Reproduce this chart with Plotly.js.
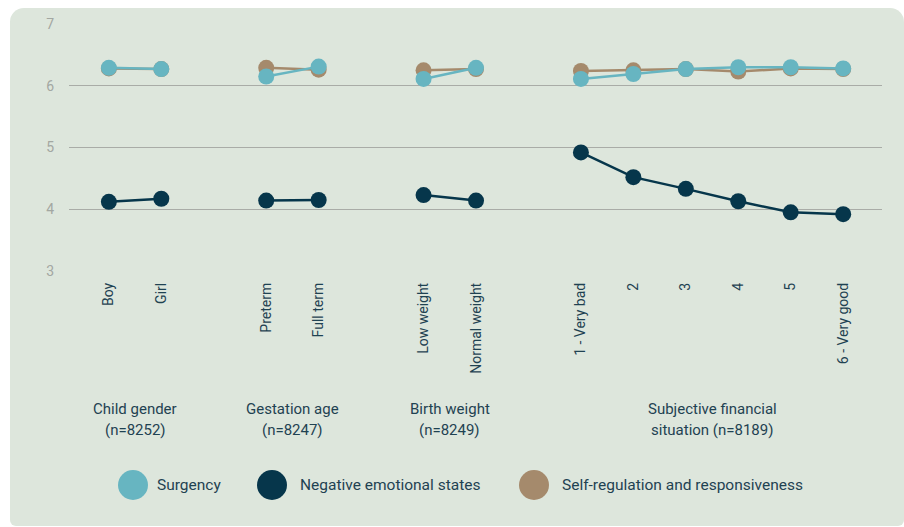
<!DOCTYPE html>
<html>
<head>
<meta charset="utf-8">
<script src="https://cdn.plot.ly/plotly-3.0.1.min.js"></script>
<style>
  html, body { margin: 0; padding: 0; background: #ffffff; }
  #card { position: absolute; left: 10px; top: 8px; width: 894px; height: 518px;
          background: #dde6dc; border-radius: 14px 14px 6px 6px; }
  #chart { position: absolute; left: 0; top: 0; width: 904px; height: 527px; }
</style>
</head>
<body>
<div id="card"></div>
<div id="chart"></div>
<script>
// ---- data ----
const categories = ['Boy', 'Girl', 'Preterm', 'Full term', 'Low weight', 'Normal weight',
                    '1 - Very bad', '2', '3', '4', '5', '6 - Very good'];
const groupOf = [0, 0, 1, 1, 2, 2, 3, 3, 3, 3, 3, 3];
const groupLine1 = ['Child gender', 'Gestation age', 'Birth weight', 'Subjective financial'];
const groupLine2 = ['(n=8252)', '(n=8247)', '(n=8249)', 'situation (n=8189)'];

const surgency       = [6.29, 6.27, 6.15, 6.31, 6.11, 6.29, 6.11, 6.19, 6.27, 6.30, 6.30, 6.28];
const negativeStates = [4.12, 4.17, 4.14, 4.15, 4.23, 4.14, 4.92, 4.52, 4.33, 4.13, 3.95, 3.92];
const selfRegulation = [6.28, 6.27, 6.29, 6.26, 6.25, 6.27, 6.24, 6.25, 6.27, 6.23, 6.28, 6.27];

const seriesNames = ['Surgency', 'Negative emotional states', 'Self-regulation and responsiveness'];
const yTicks = [3, 4, 5, 6, 7];

// ---- styles ----
const colors = {
  'Surgency': '#67b5c1',
  'Negative emotional states': '#06364b',
  'Self-regulation and responsiveness': '#a58a6c'
};
const textColor = '#1f4252';
const font = 'Roboto, "Open Sans", sans-serif';

// x positions: one slot per category, one empty slot between groups
const xPos = categories.map((c, i) => i + groupOf[i]);

const seriesData = {
  'Surgency': surgency,
  'Negative emotional states': negativeStates,
  'Self-regulation and responsiveness': selfRegulation
};
const drawOrder = ['Self-regulation and responsiveness', 'Surgency', 'Negative emotional states'];

const traces = [];
const nGroups = groupLine1.length;
drawOrder.forEach(name => {
  for (let g = 0; g < nGroups; g++) {
    const idx = categories.map((c, i) => i).filter(i => groupOf[i] === g);
    traces.push({
      type: 'scatter', mode: 'lines+markers',
      x: idx.map(i => xPos[i]),
      y: idx.map(i => seriesData[name][i]),
      line: { color: colors[name], width: 2.5 },
      marker: { color: colors[name], size: 16 },
      showlegend: false, hoverinfo: 'skip'
    });
  }
});

// plot geometry (pixels)
const L = 69, R = 882, T = 24, B = 271, W = 904, H = 527;
const px2x = p => (p - L) / (R - L);
const py2y = p => (B - p) / (B - T);

const annotations = [];
for (let g = 0; g < nGroups; g++) {
  const xs = xPos.filter((x, i) => groupOf[i] === g);
  const cx = (Math.min(...xs) + Math.max(...xs)) / 2;
  annotations.push({ x: cx, xref: 'x', y: py2y(409), yref: 'paper', text: groupLine1[g],
    showarrow: false, xanchor: 'center', yanchor: 'middle', font: { family: font, size: 15, color: textColor } });
  annotations.push({ x: cx, xref: 'x', y: py2y(430), yref: 'paper', text: groupLine2[g],
    showarrow: false, xanchor: 'center', yanchor: 'middle', font: { family: font, size: 15, color: textColor } });
}

// custom legend
const legendCenters = [133, 272, 534];
const legendTextX = [155, 298, 560];
const legendY = 485;
const shapes = [];
seriesNames.forEach((name, k) => {
  shapes.push({
    type: 'circle', xref: 'paper', yref: 'paper',
    xsizemode: 'pixel', ysizemode: 'pixel',
    xanchor: px2x(legendCenters[k]), yanchor: py2y(legendY),
    x0: -15, x1: 15, y0: -15, y1: 15,
    fillcolor: colors[name], line: { width: 0 }
  });
  annotations.push({
    x: px2x(legendTextX[k]), xref: 'paper', y: py2y(legendY), yref: 'paper',
    text: name, showarrow: false, xanchor: 'left', yanchor: 'middle',
    font: { family: font, size: 15.5, color: textColor }
  });
});

const layout = {
  width: W, height: H,
  margin: { l: L, r: W - R, t: T, b: H - B },
  paper_bgcolor: 'rgba(0,0,0,0)',
  plot_bgcolor: 'rgba(0,0,0,0)',
  showlegend: false,
  font: { family: font, color: textColor },
  xaxis: {
    range: [-0.76, 14.74],
    tickvals: xPos, ticktext: categories,
    tickangle: -90, ticks: '', ticklabelstandoff: 8,
    showgrid: false, zeroline: false, showline: false,
    tickfont: { family: font, size: 14, color: textColor },
    fixedrange: true
  },
  yaxis: {
    range: [3, 7], tickvals: yTicks,
    showgrid: true, gridcolor: '#a9aca7', gridwidth: 1,
    zeroline: false, showline: false, ticks: '',
    ticklabelstandoff: 14,
    tickfont: { family: font, size: 14, color: '#a3a7a2' },
    fixedrange: true
  },
  annotations: annotations,
  shapes: shapes
};

Plotly.newPlot('chart', traces, layout, { displayModeBar: false, staticPlot: true });
</script>
</body>
</html>
